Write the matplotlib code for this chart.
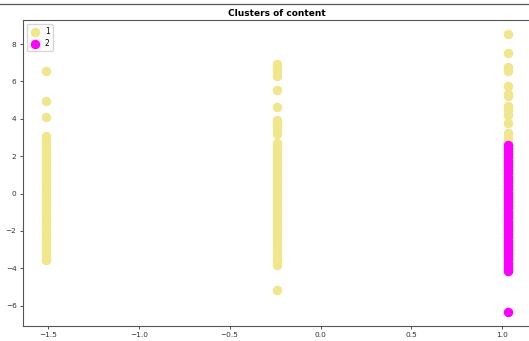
import matplotlib
matplotlib.use("Agg")
import matplotlib.pyplot as plt

# column positions on x (three distinct values)
col_x = [-1.511, -0.241, 1.028]

# cluster 1, first column
c1_col1 = [6.55, 4.97, 4.07, 3.1, 2.95, 2.8, 2.62, 2.45, 2.3, 2.1, 1.95, 1.78, 1.6,
           1.42, 1.27, 1.1, 0.93, 0.75, 0.6, 0.42, 0.25, 0.08, -0.1, -0.27, -0.43,
           -0.6, -0.78, -0.95, -1.1, -1.28, -1.45, -1.62, -1.8, -1.97, -2.12, -2.3,
           -2.47, -2.63, -2.8, -2.97, -3.12, -3.3, -3.45, -3.57]
# cluster 1, second column
c1_col2 = [6.94, 6.78, 6.54, 6.27, 5.54, 4.63, 3.96, 3.78, 3.6, 3.38, 3.16, 2.71, 2.55,
           2.38, 2.2, 2.03, 1.86, 1.7, 1.52, 1.35, 1.18, 1.0, 0.83, 0.66, 0.5, 0.32,
           0.15, -0.02, -0.2, -0.37, -0.54, -0.7, -0.88, -1.05, -1.22, -1.4, -1.56,
           -1.73, -1.9, -2.08, -2.25, -2.42, -2.6, -2.77, -2.95, -3.17, -3.44, -3.6,
           -3.83, -5.19]
# cluster 1, third column (upper part)
c1_col3 = [8.52, 7.5, 6.75, 6.54, 5.74, 5.35, 5.2, 4.67, 4.49, 4.22, 3.78, 3.25, 2.98,
           2.8]
# cluster 2, third column
c2_col3 = [2.62, 2.45, 2.28, 2.1, 1.93, 1.76, 1.6, 1.43, 1.25, 1.08, 0.9, 0.73, 0.56,
           0.4, 0.22, 0.05, -0.12, -0.3, -0.47, -0.64, -0.8, -0.98, -1.15, -1.32,
           -1.5, -1.66, -1.83, -2.0, -2.18, -2.35, -2.52, -2.7, -2.86, -3.02, -3.16,
           -3.35, -3.53, -3.72, -3.89, -4.02, -4.15, -6.33]

cluster_labels = ["1", "2"]
cluster_colors = ["khaki", "magenta"]

x1 = [col_x[0]] * len(c1_col1) + [col_x[1]] * len(c1_col2) + [col_x[2]] * len(c1_col3)
y1 = c1_col1 + c1_col2 + c1_col3
x2 = [col_x[2]] * len(c2_col3)
y2 = c2_col3

fig = plt.figure(figsize=(5.29, 3.41), dpi=100)
ax = fig.add_axes([0.043, 0.045, 0.96, 0.895])

ax.scatter(x1, y1, s=34, c=cluster_colors[0], label=cluster_labels[0])
ax.scatter(x2, y2, s=34, c=cluster_colors[1], label=cluster_labels[1])

ax.set_title("Clusters of content", fontsize=6.5, fontweight="bold", pad=3)
ax.tick_params(labelsize=5.3, length=2.5, width=0.6, pad=2, colors="#333333")
for sp in ax.spines.values():
    sp.set_linewidth(0.8)
    sp.set_color("#555555")
ax.legend(loc="upper left", fontsize=5.5, markerscale=1.0, handletextpad=0.5,
          borderpad=0.4, labelspacing=0.3, handlelength=1.5)

# thin rule across the top of the image
fig.add_artist(plt.Line2D([0, 1], [0.988, 0.988], color="#555555", lw=0.9))

plt.savefig("out.png", dpi=100)
